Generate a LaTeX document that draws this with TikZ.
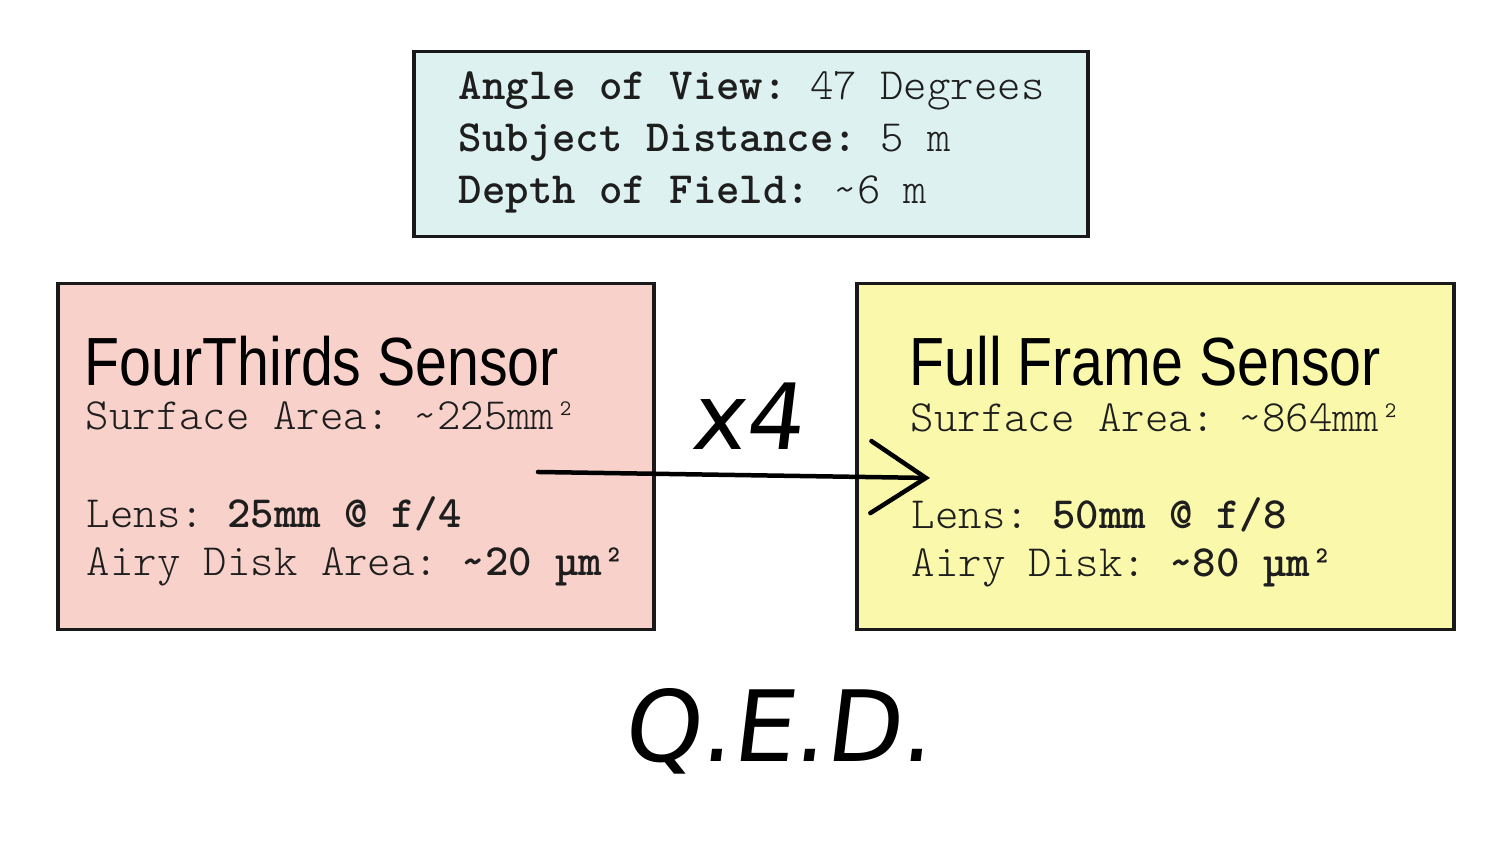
\documentclass[tikz,border=0pt]{standalone}
\usepackage{fontspec}
\setmonofont{Latin Modern Mono Light}
\newfontfamily\condfont[FakeStretch=0.84]{Liberation Sans}
\newfontfamily\handfont[FakeSlant=0.12]{DejaVu Sans}
\newcommand\tld{\char126\relax}
\usetikzlibrary{arrows.meta}
\definecolor{cyanbox}{HTML}{DDF1F1}
\definecolor{pinkbox}{HTML}{F8D2CA}
\definecolor{yellowbox}{HTML}{FAF8AA}
\definecolor{txt}{HTML}{1E1E1E}
\tikzset{
  box/.style={draw=black!90, line width=0.035cm, anchor=north west, inner sep=0pt},
  mono/.style={anchor=base west, inner sep=0pt, text=txt, font=\ttfamily\fontsize{12.7}{15}\selectfont},
  title/.style={anchor=base west, inner sep=0pt, text=black, font=\condfont\fontsize{19.4}{22}\selectfont},
  hand/.style={anchor=base west, inner sep=0pt, text=black},
  conn/.style={line width=0.045cm, line cap=round, -{Straight Barb[length=0.55cm, width=0.72cm, line cap=round]}}
}
\begin{document}
\begin{tikzpicture}
\useasboundingbox (0,0) rectangle (15,-8.44);
% boxes
\node[box, fill=cyanbox, minimum width=6.74cm, minimum height=1.85cm] (top) at (4.12,-0.50) {};
\node[box, fill=pinkbox, minimum width=5.96cm, minimum height=3.46cm] (ft) at (0.56,-2.82) {};
\node[box, fill=yellowbox, minimum width=5.97cm, minimum height=3.46cm] (ff) at (8.55,-2.82) {};
% top box text
\node[mono] (t1) at (4.58,-1.00) {\textbf{Angle of View:} 47 Degrees};
\node[mono] (t2) at (4.58,-1.52) {\textbf{Subject Distance:} 5 m};
\node[mono] (t3) at (4.58,-2.04) {\textbf{Depth of Field:} \tld{}6 m};
% left box text
\node[title] (ftt) at (0.84,-3.86) {FourThirds Sensor};
\node[mono] (fta) at (0.85,-4.30) {Surface Area: \tld{}225mm²};
\node[mono] (ftl) at (0.86,-5.28) {Lens: \textbf{25mm @ f/4}};
\node[mono] (ftd) at (0.86,-5.76) {Airy Disk Area: \textbf{\tld{}20 µm²}};
% right box text
\node[title] (fft) at (9.09,-3.86) {Full Frame Sensor};
\node[mono] (ffa) at (9.10,-4.32) {Surface Area: \tld{}864mm²};
\node[mono] (ffl) at (9.11,-5.29) {Lens: \textbf{50mm @ f/8}};
\node[mono] (ffd) at (9.11,-5.77) {Airy Disk: \textbf{\tld{}80 µm²}};
% arrow
\coordinate (as) at (5.38,-4.72);
\coordinate (ae) at (9.30,-4.78);
\draw[conn] (as) -- (ae);
\node[hand, font=\handfont\fontsize{26}{30}\selectfont] (x4) at (6.90,-4.50) {x4};
\node[hand, font=\handfont\fontsize{28}{32}\selectfont] (qed) at (6.22,-7.62) {Q.E.D.};
\end{tikzpicture}
\end{document}
